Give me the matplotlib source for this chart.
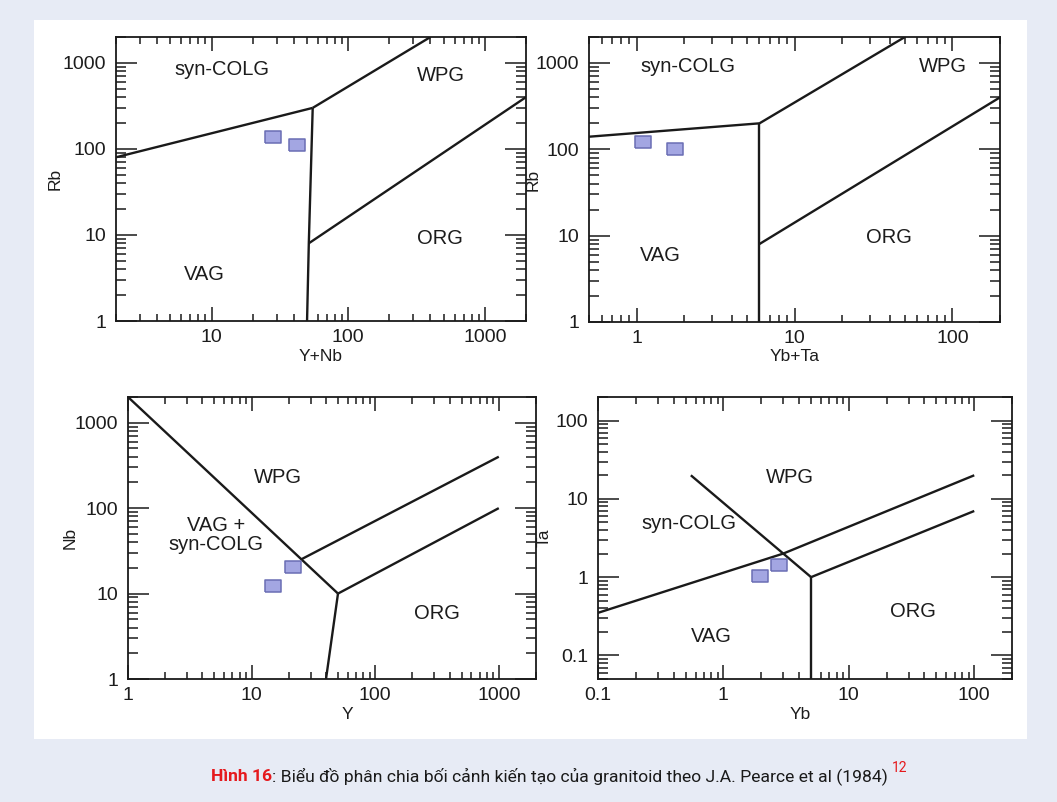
"""Pearce et al. (1984) granitoid tectonic discrimination diagrams (Hinh 16).
Four log-log panels with the field boundaries and two samples each.
"""
import numpy as np
import matplotlib
matplotlib.use("Agg")
import matplotlib.pyplot as plt
from matplotlib import font_manager
from matplotlib.patches import Rectangle
from matplotlib.ticker import LogLocator, FuncFormatter, NullFormatter

# ---- data -------------------------------------------------------------
# Rb vs Y+Nb
p1_lines = [
    [(2, 80), (55, 300)],
    [(55, 300), (400, 2000)],
    [(55, 300), (51.5, 8), (50, 1)],
    [(51.5, 8), (2000, 400)],
]
p1_x = [28, 42]
p1_y = [136, 111]

# Rb vs Yb+Ta
p2_lines = [
    [(0.5, 140), (6, 200)],
    [(6, 200), (50, 2000)],
    [(6, 200), (6, 8), (6, 1)],
    [(6, 8), (200, 400)],
]
p2_x = [1.1, 1.75]
p2_y = [121, 101]

# Nb vs Y
p3_lines = [
    [(1, 2000), (50, 10)],
    [(25, 25), (1000, 400)],
    [(50, 10), (1000, 100)],
    [(50, 10), (40, 1)],
]
p3_x = [15, 21.5]
p3_y = [12.2, 20.3]

# Ta vs Yb
p4_lines = [
    [(0.55, 20), (3, 2), (5, 1)],
    [(0.1, 0.35), (3, 2), (100, 20)],
    [(5, 1), (5, 0.05)],
    [(5, 1), (100, 7)],
]
p4_x = [1.97, 2.77]
p4_y = [1.02, 1.42]

panels = [
    dict(lines=p1_lines, x=p1_x, y=p1_y, xlim=(2, 2000), ylim=(1, 2000),
         xlabel="Y+Nb", ylabel="Rb",
         rect=(116, 37, 526, 321), xl=(0.5, -0.098), yl=(-0.13, 0.5),
         labels=[("syn-COLG", 0.259, 0.887), ("WPG", 0.793, 0.863),
                 ("ORG", 0.790, 0.292), ("VAG", 0.215, 0.165)]),
    dict(lines=p2_lines, x=p2_x, y=p2_y, xlim=(0.5, 200), ylim=(1, 2000),
         xlabel="Yb+Ta", ylabel="Rb",
         rect=(589, 37, 1000, 322), xl=(0.501, -0.095), yl=(-0.118, 0.5),
         labels=[("syn-COLG", 0.241, 0.898), ("WPG", 0.861, 0.898),
                 ("ORG", 0.730, 0.295), ("VAG", 0.173, 0.232)]),
    dict(lines=p3_lines, x=p3_x, y=p3_y, xlim=(1, 2000), ylim=(1, 2000),
         xlabel="Y", ylabel="Nb",
         rect=(128, 397, 536, 679), xl=(0.537, -0.099), yl=(-0.123, 0.5),
         labels=[("WPG", 0.368, 0.716), ("VAG +\nsyn-COLG", 0.216, 0.51),
                 ("ORG", 0.757, 0.234)]),
    dict(lines=p4_lines, x=p4_x, y=p4_y, xlim=(0.1, 200), ylim=(0.05, 200),
         xlabel="Yb", ylabel="Ta",
         rect=(598, 397, 1012, 679), xl=(0.488, -0.099), yl=(-0.111, 0.5),
         labels=[("WPG", 0.464, 0.713), ("syn-COLG", 0.22, 0.55),
                 ("VAG", 0.273, 0.152), ("ORG", 0.761, 0.238)]),
]

W, H = 1057, 802
INK = "#1a1a1a"
TXT = "#1c1c1c"
plt.rcParams["font.family"] = ["Liberation Sans", "DejaVu Sans"]

fig = plt.figure(figsize=(W / 100, H / 100), dpi=100, facecolor="#e7ebf5")
# white card behind the four diagrams
fig.patches.append(Rectangle((34 / W, 1 - 739 / H), (1027 - 34) / W, (739 - 20) / H,
                             transform=fig.transFigure, facecolor="white",
                             edgecolor="none", zorder=-5))

box = [(-1, -0.72), (1, -0.72), (1, 0.72), (-1, 0.72), (-1, -0.72)]
fmt = FuncFormatter(lambda v, _: f"{v:g}")

for p in panels:
    x0, y0, x1, y1 = p["rect"]
    ax = fig.add_axes([x0 / W, 1 - y1 / H, (x1 - x0) / W, (y1 - y0) / H])
    ax.set_xscale("log"); ax.set_yscale("log")
    ax.set_xlim(*p["xlim"]); ax.set_ylim(*p["ylim"])
    for ln in p["lines"]:
        xs, ys = zip(*ln)
        ax.plot(xs, ys, color=INK, lw=1.7, solid_capstyle="butt")
    ax.plot(p["x"], p["y"], ls="none", marker=box, ms=12,
            mfc="#a3a6e2", mec="#6a6db4", mew=1.1, zorder=5)
    for txt, tx, ty in p["labels"]:
        ax.text(tx, ty, txt, transform=ax.transAxes, ha="center", va="center",
                fontsize=14.5, color=TXT, linespacing=1.0)

    for axis in (ax.xaxis, ax.yaxis):
        axis.set_major_locator(LogLocator(base=10, numticks=20))
        axis.set_minor_locator(LogLocator(base=10, subs=np.arange(2, 10), numticks=40))
        axis.set_major_formatter(fmt)
        axis.set_minor_formatter(NullFormatter())
    ax.tick_params(which="both", direction="in", top=True, right=True,
                   colors=INK, width=1.1, labelsize=14, labelcolor=TXT)
    ax.tick_params(axis="y", which="major", length=15, pad=7)
    ax.tick_params(axis="y", which="minor", length=7)
    ax.tick_params(axis="x", which="major", length=10, pad=6)
    ax.tick_params(axis="x", which="minor", length=5)
    for s in ax.spines.values():
        s.set_linewidth(1.3); s.set_color(INK)

    ax.set_xlabel(p["xlabel"], fontsize=12.5, color=TXT, va="top")
    ax.set_ylabel(p["ylabel"], fontsize=12.5, color=TXT)
    ax.xaxis.set_label_coords(*p["xl"])
    ax.yaxis.set_label_coords(*p["yl"])

# caption: red bold "Hinh 16", black text, red superscript
names = {f.name for f in font_manager.fontManager.ttflist}
cap_font = "Liberation Sans Narrow" if "Liberation Sans Narrow" in names else "Roboto"
cap_fam = [cap_font, "DejaVu Sans"]
base_y = 1 - 781 / H
t1 = fig.text(0, base_y, "Hình 16", color="#e5191d", weight="bold",
              fontsize=12.6, family=cap_fam, va="baseline")
t2 = fig.text(0, base_y, ": Biểu đồ phân chia bối cảnh kiến tạo của granitoid theo J.A. Pearce et al (1984)",
              color="#1a1a1a", fontsize=12.6, family=cap_fam, va="baseline")
t3 = fig.text(0, base_y + 9 / H, "12", color="#e5191d", fontsize=10,
              family=cap_fam, va="baseline")
fig.canvas.draw()
r = fig.canvas.get_renderer()
w1 = t1.get_window_extent(r).width
w2 = t2.get_window_extent(r).width
w3 = t3.get_window_extent(r).width
gap = 4
total = w1 + w2 + gap + w3
start = 559 - total / 2
t1.set_x(start / W)
t2.set_x((start + w1) / W)
t3.set_x((start + w1 + w2 + gap) / W)

fig.savefig("out.png", dpi=100, facecolor=fig.get_facecolor())
